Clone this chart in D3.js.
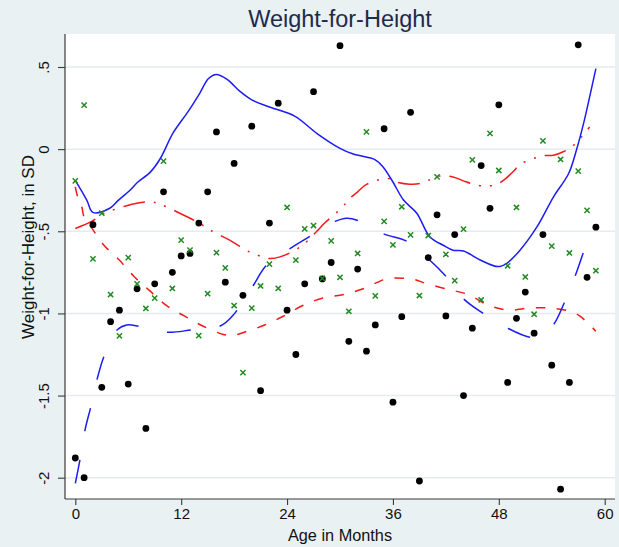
<!DOCTYPE html>
<html>
<head>
<meta charset="utf-8">
<script src="https://cdn.jsdelivr.net/npm/d3@7"></script>
<style>
  html, body { margin: 0; padding: 0; background: #e9f1f3; }
  svg { display: block; font-family: "Liberation Sans", Arial, Helvetica, sans-serif; }
</style>
</head>
<body>
<svg id="chart" width="619" height="547"></svg>
<script>
// Age in months for each child observation
const ageMonths = d3.range(0, 60);

// Weight-for-height z-scores, first group (black dots)
const wfhDots = [
  -1.88, -2.0, -0.46, -1.45, -1.05, -0.98, -1.43, -0.85, -1.70, -0.82,
  -0.26, -0.75, -0.65, -0.635, -0.45, -0.26, 0.105, -0.81, -0.087, -0.89,
  0.14, -1.47, -0.45, 0.28, -0.98, -1.25, -0.82, 0.35, -0.79, -0.69,
  0.63, -1.17, -0.73, -1.23, -1.07, 0.124, -1.54, -1.02, 0.224, -2.02,
  -0.66, -0.40, -1.015, -0.52, -1.50, -1.09, -0.10, -0.36, 0.27, -1.42,
  -1.03, -0.87, -1.12, -0.52, -1.315, -2.07, -1.42, 0.635, -0.78, -0.475
];

// Weight-for-height z-scores, second group (green crosses)
const wfhCrosses = [
  -0.193, 0.268, -0.668, -0.39, -0.885, -1.137, -0.66, -0.82, -0.97, -0.907,
  -0.073, -0.848, -0.554, -0.615, -1.135, -0.88, -0.63, -0.723, -0.952, -1.36,
  -0.968, -0.833, -0.70, -0.847, -0.355, -0.676, -0.485, -0.465, -0.787, -0.558,
  -0.78, -0.987, -0.635, 0.105, -0.893, -0.44, -0.583, -0.351, -0.522, -0.891,
  -0.526, -0.169, -0.64, -0.80, -0.487, -0.065, -0.918, 0.096, -0.13, -0.71,
  -0.355, -0.778, -1.005, 0.05, -0.59, -0.063, -0.632, -0.134, -0.373, -0.74
];

// Smoothed band for the first group: upper (solid) and lower (long dash)
const blueUpperAge = [0, 1.3, 2, 3.9, 4.9, 6.2, 7, 8.5, 9.6, 11.1, 12.8, 14.1, 15.1, 16, 17.2, 18.7, 20, 22.1, 24.9, 27.4, 30, 31.5, 34, 34.9, 36, 37.2, 38.7, 40.2, 41.7, 42.8, 44, 45.9, 47.9, 48.9, 50.4, 52.3, 54.2, 55.9, 56.8, 57.6, 58.3, 59];
const blueUpperSD  = [-0.19, -0.31, -0.385, -0.36, -0.31, -0.25, -0.205, -0.14, -0.06, 0.10, 0.23, 0.34, 0.43, 0.455, 0.425, 0.35, 0.30, 0.255, 0.20, 0.095, 0.005, -0.03, -0.065, -0.11, -0.2, -0.31, -0.39, -0.535, -0.585, -0.615, -0.62, -0.675, -0.715, -0.695, -0.615, -0.475, -0.29, -0.15, -0.005, 0.155, 0.32, 0.49];

const blueLowerAge = [0, 0.53, 1.1, 1.75, 2.5, 3.3, 4.76, 5.83, 7.33, 10.43, 13.19, 16.48, 17.9, 18.47, 20.17, 21.7, 24.33, 26.6, 29.43, 30.76, 32.07, 34.9, 37.56, 39.75, 42.1, 43.98, 46.24, 49, 51.5, 52.8, 54.18, 55.42, 56.63, 57.58, 58];
const blueLowerSD  = [-2.035, -1.89, -1.71, -1.57, -1.395, -1.255, -1.1, -1.07, -1.08, -1.115, -1.10, -1.075, -1.01, -0.97, -0.83, -0.705, -0.605, -0.53, -0.44, -0.42, -0.435, -0.515, -0.56, -0.655, -0.78, -0.91, -1.0, -1.09, -1.145, -1.14, -1.07, -0.935, -0.775, -0.63, -0.57];

// Smoothed band for the second group: upper (dash-dot) and lower (dash)
const redUpperAge = [0, 1.9, 3.1, 5.8, 8.4, 9.6, 11.9, 14.1, 15.3, 17.5, 19.7, 20.9, 22, 23.2, 25.5, 27.5, 28.2, 30.3, 31.1, 32, 33, 35.4, 36.6, 37.9, 39.1, 41.3, 42.8, 44, 45.1, 46.4, 47.8, 48.8, 49.6, 50.6, 53, 54.2, 55.3, 56.4, 58.3];
const redUpperSD  = [-0.483, -0.438, -0.396, -0.345, -0.321, -0.335, -0.392, -0.452, -0.493, -0.554, -0.625, -0.65, -0.666, -0.656, -0.595, -0.493, -0.453, -0.351, -0.30, -0.26, -0.215, -0.178, -0.203, -0.213, -0.209, -0.164, -0.169, -0.193, -0.213, -0.225, -0.213, -0.178, -0.138, -0.087, -0.041, -0.037, -0.016, 0.02, 0.135];

const redLowerAge = [0, 0.23, 0.73, 0.99, 1.78, 3.17, 4.99, 6.65, 8.39, 10.28, 12.35, 14.5, 16.77, 17.84, 19.23, 21.39, 23.57, 25.84, 28.11, 30.45, 32.72, 34.99, 36.12, 37.37, 38.5, 39.75, 42.28, 44.54, 46.81, 49.08, 51.54, 53.88, 56.26, 57.2, 58.26, 59];
const redLowerSD  = [-0.23, -0.284, -0.351, -0.412, -0.473, -0.58, -0.675, -0.775, -0.86, -0.95, -1.015, -1.078, -1.128, -1.133, -1.113, -1.072, -1.017, -0.95, -0.906, -0.885, -0.848, -0.794, -0.784, -0.787, -0.794, -0.818, -0.854, -0.885, -0.95, -0.98, -0.967, -0.967, -0.99, -1.017, -1.068, -1.108];

// Axis ticks
const xTicks = [0, 12, 24, 36, 48, 60];
const yTicks = [-2, -1.5, -1, -0.5, 0, 0.5];
const yTickLabels = ["-2", "-1.5", "-1", "-.5", "0", ".5"];

const svg = d3.select("#chart");
const W = 619, H = 547;
const plot = { left: 65, right: 615, top: 34, bottom: 499 };

const x = d3.scaleLinear().domain([0, 60]).range([75.3, 604.7]);
const y = d3.scaleLinear().domain([-2, 0.5]).range([477.7, 67]);

// Background regions
svg.append("rect").attr("width", W).attr("height", H).attr("fill", "#e9f1f3");
svg.append("rect")
  .attr("x", plot.left).attr("y", plot.top)
  .attr("width", plot.right - plot.left).attr("height", plot.bottom - plot.top)
  .attr("fill", "#ffffff");

// Horizontal grid lines
svg.append("g").selectAll("line").data(yTicks).join("line")
  .attr("x1", plot.left).attr("x2", plot.right)
  .attr("y1", d => y(d)).attr("y2", d => y(d))
  .attr("stroke", "#e4ecef").attr("stroke-width", 1.5);

// Curves
const curveLine = d3.line()
  .x(d => x(d[0])).y(d => y(d[1]))
  .curve(d3.curveCatmullRom.alpha(0.5));
const pairs = (a, b) => a.map((v, i) => [v, b[i]]);

const bands = [
  { age: redLowerAge, sd: redLowerSD, color: "#f21a1a", dash: "9.5,11.5" },
  { age: redUpperAge, sd: redUpperSD, color: "#f21a1a", dash: "22,9,2,9,2,9" },
  { age: blueLowerAge, sd: blueLowerSD, color: "#1c1cf5", dash: "24,29" },
  { age: blueUpperAge, sd: blueUpperSD, color: "#1c1cf5", dash: null }
];
svg.append("g").selectAll("path").data(bands).join("path")
  .attr("d", d => curveLine(pairs(d.age, d.sd)))
  .attr("fill", "none")
  .attr("stroke", d => d.color)
  .attr("stroke-width", 1.5)
  .attr("stroke-dasharray", d => d.dash);

// Markers: black dots
svg.append("g").selectAll("circle").data(ageMonths).join("circle")
  .attr("cx", (d) => x(d)).attr("cy", (d, i) => y(wfhDots[i]))
  .attr("r", 3.4).attr("fill", "#000");

// Markers: green crosses
const s = 2.6;
svg.append("g").selectAll("path").data(ageMonths).join("path")
  .attr("transform", (d, i) => `translate(${x(d)},${y(wfhCrosses[i])})`)
  .attr("d", `M${-s},${-s}L${s},${s}M${-s},${s}L${s},${-s}`)
  .attr("stroke", "#228a22").attr("stroke-width", 1.5).attr("fill", "none");

// Axes
const yAxis = d3.axisLeft(y).tickValues(yTicks).tickSize(7)
  .tickFormat((d, i) => yTickLabels[i]);
const gy = svg.append("g").attr("transform", `translate(${plot.left},0)`).call(yAxis);
gy.select(".domain").attr("d", `M0,${plot.top}V${plot.bottom}`).attr("stroke", "#3a3a3a").attr("stroke-width", 1.2);
gy.selectAll(".tick line").attr("stroke", "#3a3a3a").attr("stroke-width", 1.1);
gy.selectAll(".tick text")
  .attr("x", 0).attr("y", 0).attr("dy", "0.36em")
  .attr("text-anchor", "middle")
  .attr("transform", "translate(-21,0) rotate(-90)")
  .attr("font-size", 15).attr("fill", "#111")
  .attr("font-family", "Liberation Sans, Arial, sans-serif");

const xAxis = d3.axisBottom(x).tickValues(xTicks).tickSize(6);
const gx = svg.append("g").attr("transform", `translate(0,${plot.bottom})`).call(xAxis);
gx.select(".domain").attr("d", `M${plot.left},0H${plot.right}`).attr("stroke", "#3a3a3a").attr("stroke-width", 1.2);
gx.selectAll(".tick line").attr("stroke", "#3a3a3a").attr("stroke-width", 1.1);
gx.selectAll(".tick text")
  .attr("y", 9).attr("dy", "0.71em")
  .attr("font-size", 15).attr("fill", "#111")
  .attr("font-family", "Liberation Sans, Arial, sans-serif");

// Titles
svg.append("text")
  .attr("x", 340).attr("y", 27)
  .attr("text-anchor", "middle")
  .attr("font-size", 23.5).attr("fill", "#1e2b4b")
  .text("Weight-for-Height");

svg.append("text")
  .attr("x", 340).attr("y", 541)
  .attr("text-anchor", "middle")
  .attr("font-size", 16.3).attr("fill", "#111")
  .text("Age in Months");

svg.append("text")
  .attr("transform", "translate(34,247) rotate(-90)")
  .attr("text-anchor", "middle")
  .attr("font-size", 17).attr("fill", "#111")
  .text("Weight-for-Height, in SD");
</script>
</body>
</html>
